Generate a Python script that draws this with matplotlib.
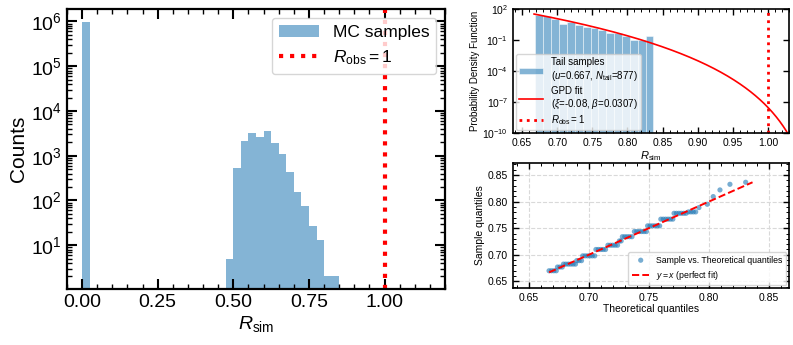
import numpy as np
import matplotlib
matplotlib.use("Agg")
import matplotlib.pyplot as plt
from matplotlib.ticker import MultipleLocator

plt.rcParams['font.family'] = ['Liberation Sans', 'DejaVu Sans']
plt.rcParams['mathtext.fontset'] = 'custom'
plt.rcParams['mathtext.rm'] = 'Liberation Sans'
plt.rcParams['mathtext.it'] = 'Liberation Sans:italic'
plt.rcParams['mathtext.bf'] = 'Liberation Sans:bold'

# --- MC histogram (left) ---
mc_bin_width = 0.025
mc_counts = [984000] + [0] * 18 + [5, 530, 2100, 3200, 2650, 3600, 1950, 1070,
                                   430, 155, 76, 27, 13, 2, 2]
r_obs = 1.0

# --- tail histogram + GPD fit (top right) ---
u = 0.667
n_tail = 877
xi = -0.0752
beta = 0.0307
tail_lo, tail_hi = 0.669, 0.837
tail_density = [28, 19, 10.5, 3.3, 5.2, 2.8, 1.9, 1.3, 0.9, 0.52, 0.52,
                0.22, 0.105, 0.105, 0.22]

# --- Q-Q points (bottom right) ---
qq_theo = [0.667, 0.669, 0.671, 0.673,
           0.674, 0.676, 0.678,
           0.679, 0.681, 0.683, 0.685, 0.687, 0.689,
           0.690, 0.692, 0.694,
           0.695, 0.697, 0.699, 0.701, 0.703, 0.705,
           0.706, 0.708, 0.710, 0.712, 0.714,
           0.716, 0.718, 0.720, 0.722, 0.724,
           0.7255, 0.727,
           0.728, 0.730, 0.732, 0.734, 0.736,
           0.738, 0.740, 0.742, 0.744, 0.746, 0.748,
           0.749, 0.751, 0.753, 0.755, 0.757, 0.759,
           0.760, 0.762, 0.764, 0.766, 0.768, 0.770,
           0.771, 0.773, 0.775, 0.777, 0.779, 0.781,
           0.783, 0.785, 0.787, 0.789,
           0.7917, 0.7986, 0.8036, 0.8092, 0.8175, 0.8306]
qq_samp = [0.670, 0.670, 0.670, 0.670,
           0.677, 0.677, 0.677,
           0.6825, 0.6825, 0.6825, 0.6825, 0.6825, 0.6825,
           0.689, 0.689, 0.689,
           0.698, 0.698, 0.698, 0.698, 0.698, 0.698,
           0.710, 0.710, 0.710, 0.710, 0.710,
           0.718, 0.718, 0.718, 0.718, 0.718,
           0.726, 0.726,
           0.734, 0.734, 0.734, 0.734, 0.734,
           0.7437, 0.7437, 0.7437, 0.7437, 0.7437, 0.7437,
           0.7544, 0.7544, 0.7544, 0.7544, 0.7544, 0.7544,
           0.767, 0.767, 0.767, 0.767, 0.767, 0.767,
           0.778, 0.778, 0.778, 0.778, 0.778, 0.778,
           0.7806, 0.7806, 0.7806, 0.7806,
           0.7887, 0.795, 0.8094, 0.8219, 0.8325, 0.8363]

bar_color = 'C0'

fig = plt.figure(figsize=(7.93, 3.45), dpi=100)

# ---------------- left panel ----------------
ax = fig.add_axes([0.0845, 0.1623, 0.4767, 0.8116])
mc_edges = np.arange(len(mc_counts) + 1) * mc_bin_width
mc_centers = mc_edges[:-1] + mc_bin_width / 2
ax.hist(mc_centers, bins=mc_edges, weights=mc_counts, log=True,
        color=bar_color, alpha=0.55, label='MC samples')
ax.axvline(r_obs, color='red', ls=':', lw=3, label=r'$R_{\rm obs} = 1$')
ax.set_xlim(-0.05, 1.2)
ax.set_ylim(1.05, 1.9e6)
ax.xaxis.set_major_locator(MultipleLocator(0.25))
ax.xaxis.set_minor_locator(MultipleLocator(0.05))
ax.set_xlabel(r'$R_{\rm sim}$', fontsize=14, labelpad=2)
ax.set_ylabel('Counts', fontsize=15, labelpad=2)
ax.tick_params(which='both', direction='in', top=True, right=True, labelsize=14)
ax.tick_params(which='major', length=7, width=1.5)
ax.tick_params(which='minor', length=3.5, width=1)
for s in ax.spines.values():
    s.set_linewidth(1.6)
ax.legend(loc='upper right', fontsize=12.5, framealpha=0.8, handlelength=2.3)

# ---------------- top right panel ----------------
ax1 = fig.add_axes([0.6469, 0.6145, 0.3480, 0.3594])
tail_edges = np.linspace(tail_lo, tail_hi, len(tail_density) + 1)
h_bar = ax1.bar(tail_edges[:-1], tail_density, width=np.diff(tail_edges), align='edge',
                color=bar_color, alpha=0.55, edgecolor='white', linewidth=0.6,
                label=f'Tail samples\n($u$={u:.3f}, $N_{{\\rm tail}}$={n_tail})')
xg = np.linspace(u, 1.03, 600)
zg = 1 + xi * (xg - u) / beta
pdf = np.where(zg > 0, (1 / beta) * np.clip(zg, 1e-300, None) ** (-1 / xi - 1), np.nan)
h_fit, = ax1.plot(xg, pdf, color='red', lw=1.2,
                  label=f'GPD fit\n($\\xi$={xi:.2f}, $\\beta$={beta:.4f})')
h_obs = ax1.axvline(r_obs, color='red', ls=':', lw=2, label=r'$R_{\rm obs} = 1$')
ax1.set_yscale('log')
ax1.set_xlim(u - 0.03, 1.03)
ax1.set_ylim(1e-10, 1e2)
ax1.xaxis.set_major_locator(MultipleLocator(0.05))
ax1.xaxis.set_minor_locator(MultipleLocator(0.01))
ax1.set_xlabel(r'$R_{\rm sim}$', fontsize=8, labelpad=1)
ax1.set_ylabel('Probability Density Function', fontsize=7, labelpad=2)
ax1.tick_params(which='both', direction='in', top=True, right=True, labelsize=7.5)
ax1.tick_params(which='major', length=4, width=1)
ax1.tick_params(which='minor', length=2, width=0.7)
for s in ax1.spines.values():
    s.set_linewidth(1.2)
ax1.legend(handles=[h_bar, h_fit, h_obs], loc='lower left', fontsize=7,
           framealpha=0.8, handlelength=2.5, borderaxespad=0.3, labelspacing=0.25,
           borderpad=0.3)

# ---------------- bottom right panel ----------------
ax2 = fig.add_axes([0.6469, 0.1652, 0.3480, 0.3623])
ax2.scatter(qq_theo, qq_samp, s=14, color=bar_color, alpha=0.6, edgecolors='none',
            label='Sample vs. Theoretical quantiles', zorder=2)
ax2.plot([min(qq_theo), max(qq_samp)], [min(qq_theo), max(qq_samp)],
         'r--', lw=1.4, label=r'$y = x$ (perfect fit)', zorder=3)
ax2.set_xlim(0.637, 0.8666)
ax2.set_ylim(0.6376, 0.8725)
ax2.xaxis.set_major_locator(MultipleLocator(0.05))
ax2.xaxis.set_minor_locator(MultipleLocator(0.01))
ax2.yaxis.set_major_locator(MultipleLocator(0.05))
ax2.yaxis.set_minor_locator(MultipleLocator(0.01))
ax2.grid(True, which='major', ls='--', color='0.85', lw=0.8, zorder=0)
ax2.set_xlabel('Theoretical quantiles', fontsize=7.5, labelpad=1)
ax2.set_ylabel('Sample quantiles', fontsize=7.5, labelpad=2)
ax2.tick_params(which='both', direction='in', top=True, right=True, labelsize=7.5)
ax2.tick_params(which='major', length=4, width=1)
ax2.tick_params(which='minor', length=2, width=0.7)
for s in ax2.spines.values():
    s.set_linewidth(1.2)
ax2.legend(loc='lower right', fontsize=6.3, framealpha=0.8, borderaxespad=0.3)

fig.savefig('out.png', dpi=100)
